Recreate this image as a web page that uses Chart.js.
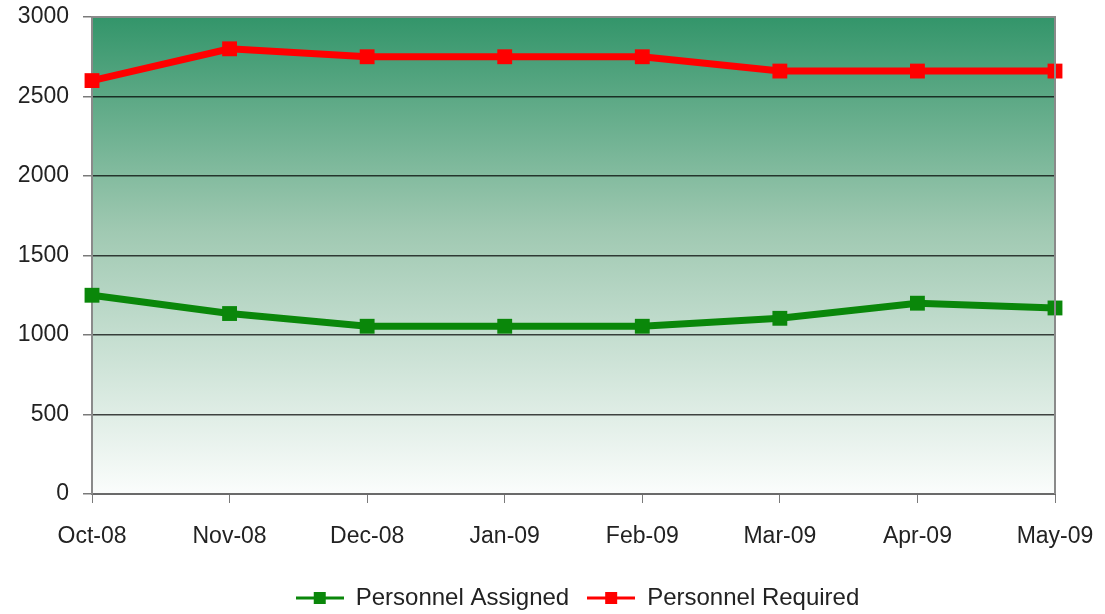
<!DOCTYPE html>
<html>
<head>
<meta charset="utf-8">
<script src="https://cdn.jsdelivr.net/npm/chart.js@4"></script>
<style>
  html, body { margin: 0; padding: 0; background: #fff; }
  #wrap { width: 1105px; height: 614px; }
</style>
</head>
<body>
<div id="wrap"><canvas id="myChart" width="1105" height="614"></canvas></div>
<script>
const months = ['Oct-08', 'Nov-08', 'Dec-08', 'Jan-09', 'Feb-09', 'Mar-09', 'Apr-09', 'May-09'];
const assigned = [1250, 1135, 1055, 1055, 1055, 1105, 1200, 1170];
const required = [2600, 2800, 2750, 2750, 2750, 2660, 2660, 2660];
const yTicks = [0, 500, 1000, 1500, 2000, 2500, 3000];

const GREEN = '#0a870a';
const RED = '#ff0000';
const FONT = "'Liberation Sans', Arial, sans-serif";

// little line + square marker for the legend
function legendMark(color) {
  const c = document.createElement('canvas');
  c.width = 48; c.height = 16;
  const g = c.getContext('2d');
  g.strokeStyle = color;
  g.lineWidth = 3;
  g.beginPath(); g.moveTo(0, 8); g.lineTo(48, 8); g.stroke();
  g.fillStyle = color;
  g.fillRect(18, 2, 12, 12);
  return c;
}

// green-to-white background in the plot area, frame on top/right
const plotBg = {
  id: 'plotBg',
  afterLayout(chart) {
    // nudge the legend to where it sits in the original
    const lg = chart.legend;
    lg.top += 6; lg.bottom += 6;
    lg.left += 50; lg.right += 50;
  },
  beforeDraw(chart) {
    const { ctx, chartArea: a } = chart;
    const grad = ctx.createLinearGradient(0, a.top, 0, a.bottom);
    grad.addColorStop(0, '#33956a');
    grad.addColorStop(0.45, '#a0c9b2');
    grad.addColorStop(1, '#fbfdfc');
    ctx.save();
    ctx.fillStyle = grad;
    ctx.fillRect(a.left, a.top, a.right - a.left, a.bottom - a.top);
    ctx.restore();
  },
  afterDatasetsDraw(chart) {
    const { ctx, chartArea: a } = chart;
    ctx.save();
    ctx.strokeStyle = '#8a8a8a';
    ctx.lineWidth = 2;
    ctx.beginPath();
    ctx.moveTo(a.left, a.top);
    ctx.lineTo(a.right, a.top);
    ctx.lineTo(a.right, a.bottom);
    ctx.stroke();
    ctx.restore();
  }
};

const ctx = document.getElementById('myChart').getContext('2d');
const config = {
  type: 'line',
  data: {
    labels: months,
    datasets: [
      {
        label: 'Personnel Assigned',
        data: assigned,
        borderColor: GREEN,
        backgroundColor: GREEN,
        borderWidth: 7,
        tension: 0,
        pointStyle: 'rect',
        pointRadius: 10.5,
        pointBorderWidth: 0,
        pointBackgroundColor: GREEN,
        clip: false
      },
      {
        label: 'Personnel Required',
        data: required,
        borderColor: RED,
        backgroundColor: RED,
        borderWidth: 7,
        tension: 0,
        pointStyle: 'rect',
        pointRadius: 10.5,
        pointBorderWidth: 0,
        pointBackgroundColor: RED,
        clip: false
      }
    ]
  },
  options: {
    responsive: false,
    animation: false,
    layout: { padding: { top: 17, right: 50, left: 0, bottom: 0 } },
    plugins: {
      tooltip: { enabled: false },
      legend: {
        position: 'bottom',
        labels: {
          usePointStyle: true,
          pointStyleWidth: 48,
          padding: 18,
          color: '#222',
          font: { family: FONT, size: 24 },
          generateLabels(chart) {
            return chart.data.datasets.map((ds, i) => ({
              text: ds.label,
              fillStyle: ds.borderColor,
              strokeStyle: ds.borderColor,
              lineWidth: 0,
              pointStyle: legendMark(ds.borderColor),
              hidden: false,
              datasetIndex: i,
              fontColor: '#222'
            }));
          }
        }
      }
    },
    scales: {
      x: {
        offset: false,
        grid: { drawOnChartArea: false, drawTicks: true, tickLength: 9, tickColor: '#7a7a7a' },
        border: { color: '#6a6a6a', width: 2 },
        ticks: {
          color: '#222',
          padding: 20,
          maxRotation: 0,
          autoSkip: false,
          font: { family: FONT, size: 23 }
        },
        afterFit(scale) {
          scale.height = 68;
          scale.paddingLeft = 0;
          scale.paddingRight = 0;
        }
      },
      y: {
        min: 0,
        max: 3000,
        afterBuildTicks(scale) { scale.ticks = yTicks.map(v => ({ value: v })); },
        grid: {
          color: ctx => (ctx.tick && ctx.tick.value === 0) ? 'rgba(0,0,0,0)' : 'rgba(0,0,0,0.72)',
          lineWidth: 1.5,
          drawTicks: true,
          tickLength: 9,
          tickColor: '#7a7a7a'
        },
        border: { color: '#8a8a8a', width: 2 },
        ticks: {
          color: '#222',
          padding: 14,
          font: { family: FONT, size: 23 },
          callback: v => String(v)
        },
        afterFit(scale) {
          scale.width = 92;
          scale.paddingTop = 0;
          scale.paddingBottom = 0;
        }
      }
    }
  },
  plugins: [plotBg]
};

const myChart = new Chart(ctx, config);
</script>
</body>
</html>
